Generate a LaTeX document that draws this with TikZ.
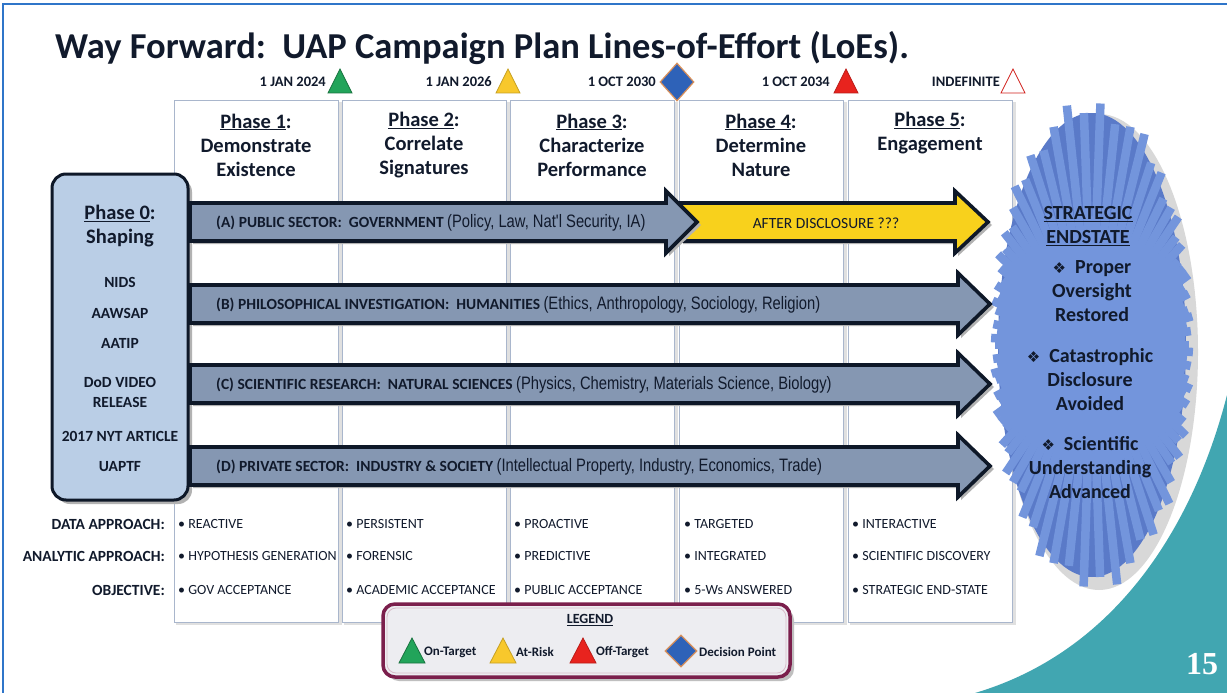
\documentclass[tikz,border=0pt]{standalone}
\usepackage{fontspec}
\setmainfont{Carlito}
\newfontfamily\narrowfont[FakeStretch=0.82]{Liberation Sans}
\newfontfamily\symfont{DejaVu Sans}
\newfontfamily\numfont{Liberation Serif}
\usetikzlibrary{shapes.geometric,calc}
\definecolor{ink}{HTML}{111A2C}
\definecolor{frameblue}{HTML}{2F75C9}
\definecolor{colborder}{HTML}{A9B6CC}
\definecolor{steel}{HTML}{8597B2}
\definecolor{arrowline}{HTML}{0E1828}
\definecolor{gold}{HTML}{F8D11C}
\definecolor{phfill}{HTML}{BACEE6}
\definecolor{tealbg}{HTML}{41A6B1}
\definecolor{burstlight}{HTML}{7395DC}
\definecolor{burstdark}{HTML}{5A7AC8}
\definecolor{maroon}{HTML}{7B1F4C}
\definecolor{legfill}{HTML}{EDEDF1}
\definecolor{tgreen}{HTML}{22A45A}
\definecolor{tyellow}{HTML}{F8C82C}
\definecolor{tred}{HTML}{E8231E}
\definecolor{dblue}{HTML}{2E62B8}
\definecolor{dorange}{HTML}{D9905A}
\tikzset{
  colbox/.style={draw=colborder, line width=1.2pt, fill=white, minimum width=164pt, minimum height=522pt, anchor=north west, inner sep=0pt},
  phasehead/.style={font=\bfseries\fontsize{20.5}{24}\selectfont, text=ink, align=center},
  datelabel/.style={font=\bfseries\fontsize{14.5}{16}\selectfont, text=ink, anchor=east, inner sep=2pt},
  ph0text/.style={font=\bfseries\fontsize{15.5}{17}\selectfont, text=ink},
  arrowbox/.style={draw=arrowline, line width=3.6pt, line join=miter},
  lanetext/.style={anchor=west, text=ink, inner sep=0pt},
  rowlabel/.style={font=\bfseries\fontsize{15.5}{17}\selectfont, text=ink, anchor=east, inner sep=0pt},
  rowitem/.style={font=\fontsize{14}{16}\selectfont, text=ink, anchor=west, inner sep=0pt},
  legtext/.style={font=\bfseries\fontsize{13}{15}\selectfont, text=ink, anchor=west, inner sep=0pt},
  bursttext/.style={font=\bfseries\fontsize{20}{24}\selectfont, text=ink, align=center},
  decision/.style={diamond, fill=dblue, draw=dorange, line width=1.2pt, minimum width=34pt, minimum height=38pt, inner sep=0pt},
}
\newcommand\tri[5]{% x, ybase, half width, height, fill/draw
  \filldraw[#5, line width=0.8pt] (#1-#3,#2) -- (#1+#3,#2) -- (#1,#2-#4) -- cycle;}
\newcommand\lanearrow[5]{% xstart, headstart, tip, ycenter, fill
  \fill[black!30] (#1+3,#4-16) -- (#2+3,#4-16) -- (#2+3,#4-28) -- (#3+4,#4+3) -- (#2+3,#4+34) -- (#2+3,#4+22) -- (#1+3,#4+22) -- cycle;
  \draw[arrowbox, fill=#5] (#1,#4-19) -- (#2,#4-19) -- (#2,#4-31) -- (#3,#4) -- (#2,#4+31) -- (#2,#4+19) -- (#1,#4+19) -- cycle;}
\begin{document}
\begin{tikzpicture}[x=1pt,y=-1pt]
\useasboundingbox (0,0) rectangle (1227,693);
\fill[white] (0,0) rectangle (1227,693);
% teal corner
\fill[tealbg] (1227,395) .. controls (1195,520) and (1120,650) .. (975,693) -- (1227,693) -- cycle;
% frame
\draw[frameblue, line width=2pt] (3,693) -- (3,4) -- (1227,4);
% title
\node[anchor=west, font=\bfseries\fontsize{36.5}{40}\selectfont, text=ink, inner sep=0pt] (title) at (55,48) {Way Forward:\ \ UAP Campaign Plan Lines-of-Effort (LoEs).};
% columns
\foreach \xx/\nm in {174/c1,342/c2,510/c3,679/c4,848/c5}{
  \fill[black!12] (\xx+2,102) rectangle (\xx+168,625);
  \node[colbox] (\nm) at (\xx,100) {};
}
% milestones
\node[datelabel] (d1) at (328,82) {1 JAN 2024};
\tri{340}{93}{12}{24}{fill=tgreen, draw=tgreen!70!black}
\node[datelabel] (d2) at (494,82) {1 JAN 2026};
\tri{508}{93}{12}{24}{fill=tyellow, draw=tyellow!80!black}
\node[datelabel] (d3) at (658,82) {1 OCT 2030};
\node[decision] (dp1) at (677,82) {};
\node[datelabel] (d4) at (832,82) {1 OCT 2034};
\tri{846}{93}{12}{24}{fill=tred, draw=tred!80!black}
\node[datelabel] (d5) at (1002,82) {INDEFINITE};
\tri{1013}{93}{12}{24}{fill=white!90!blue!5, draw=tred!90!black}
% phase headers
\node[phasehead] (h1) at (256,145) {\underline{Phase 1}:\\Demonstrate\\Existence};
\node[phasehead] (h2) at (424,145) {\underline{Phase 2}:\\Correlate\\Signatures};
\node[phasehead] (h3) at (592,145) {\underline{Phase 3}:\\Characterize\\Performance};
\node[phasehead] (h4) at (761,145) {\underline{Phase 4}:\\Determine\\Nature};
\node[phasehead] (h5) at (930,133) {\underline{Phase 5}:\\Engagement};
% starburst
\fill[black!30, opacity=0.5] (1099,352) ellipse [x radius=99, y radius=238];
\fill[burstdark] (1092,345) ellipse [x radius=94, y radius=232];
\foreach \a [count=\i] in {0,4,...,356}{
  \pgfmathsetmacro\rr{235.2/sqrt((2.4*cos(\a))^2+(0.98*sin(\a))^2)}
  \pgfmathsetmacro\jj{0.95+0.08*mod(\i*7,5)/4}
  \draw[burstlight, line width=8.5pt] (1092,345) -- ++({\rr*\jj*cos(\a)},{\rr*\jj*sin(\a)});
}
\fill[burstlight] (1092,345) ellipse [x radius=40, y radius=80];
% phase 0
\fill[black!30, rounded corners=14pt] (56,178) rectangle (192,504);
\filldraw[fill=phfill, draw=arrowline, line width=3pt, rounded corners=14pt] (52,174) rectangle (188,500);
\node[phasehead, font=\bfseries\fontsize{20.5}{24}\selectfont] (p0) at (120,226) {\underline{Phase 0}:\\Shaping};
\node[ph0text] (n1) at (120,282) {NIDS};
\node[ph0text] (n2) at (120,313) {AAWSAP};
\node[ph0text] (n3) at (120,343) {AATIP};
\node[ph0text, align=center, font=\bfseries\fontsize{15.5}{20}\selectfont] (n4) at (120,392) {DoD VIDEO\\RELEASE};
\node[ph0text] (n5) at (120,436) {2017 NYT ARTICLE};
\node[ph0text] (n6) at (120,467) {UAPTF};
% arrows
\lanearrow{680}{955}{988}{222}{gold}
\lanearrow{190}{666}{697}{222}{steel}
\lanearrow{190}{958}{990}{304}{steel}
\lanearrow{190}{958}{990}{384}{steel}
\lanearrow{190}{958}{990}{466}{steel}
\node[lanetext] (la) at (216,223) {\bfseries\fontsize{15.5}{17}\selectfont (A) PUBLIC SECTOR:\ \ GOVERNMENT \narrowfont\mdseries\fontsize{18}{20}\selectfont(Policy, Law, Nat'l Security, IA)};
\node[text=ink, font=\fontsize{15.5}{17}\selectfont] (lad) at (826,223) {AFTER DISCLOSURE ???};
\node[lanetext] (lb) at (216,305) {\bfseries\fontsize{15.5}{17}\selectfont (B) PHILOSOPHICAL INVESTIGATION:\ \ HUMANITIES \narrowfont\mdseries\fontsize{18}{20}\selectfont(Ethics, Anthropology, Sociology, Religion)};
\node[lanetext] (lc) at (216,385) {\bfseries\fontsize{15.5}{17}\selectfont (C) SCIENTIFIC RESEARCH:\ \ NATURAL SCIENCES \narrowfont\mdseries\fontsize{18}{20}\selectfont(Physics, Chemistry, Materials Science, Biology)};
\node[lanetext] (ld) at (216,467) {\bfseries\fontsize{15.5}{17}\selectfont (D) PRIVATE SECTOR:\ \ INDUSTRY \& SOCIETY \narrowfont\mdseries\fontsize{18}{20}\selectfont(Intellectual Property, Industry, Economics, Trade)};
% burst text
\node[bursttext] (b0) at (1088,226) {\underline{STRATEGIC}\\\underline{ENDSTATE}};
\node[bursttext] (b1) at (1092,291) {{\symfont\fontsize{15}{17}\selectfont ❖}\ \ Proper\\Oversight\\Restored};
\node[bursttext] (b2) at (1090,380) {{\symfont\fontsize{15}{17}\selectfont ❖}\ \ Catastrophic\\Disclosure\\Avoided};
\node[bursttext] (b3) at (1090,468) {{\symfont\fontsize{15}{17}\selectfont ❖}\ \ Scientific\\Understanding\\Advanced};
% rows
\node[rowlabel] (r1) at (165,524) {DATA APPROACH:};
\node[rowlabel] (r2) at (165,556) {ANALYTIC APPROACH:};
\node[rowlabel] (r3) at (165,590) {OBJECTIVE:};
\foreach \xx/\ta/\tb/\tc [count=\k] in {178/REACTIVE/HYPOTHESIS GENERATION/GOV ACCEPTANCE,
  346/PERSISTENT/FORENSIC/ACADEMIC ACCEPTANCE,
  514/PROACTIVE/PREDICTIVE/PUBLIC ACCEPTANCE,
  684/TARGETED/INTEGRATED/5-Ws ANSWERED,
  852/INTERACTIVE/SCIENTIFIC DISCOVERY/STRATEGIC END-STATE}{
  \node[rowitem] (ia\k) at (\xx,524) {• \ta};
  \node[rowitem] (ib\k) at (\xx,556) {• \tb};
  \node[rowitem] (ic\k) at (\xx,590) {• \tc};
}
% legend
\fill[black!25, rounded corners=12pt] (387,608) rectangle (794,681);
\filldraw[fill=legfill, draw=maroon, line width=3.5pt, rounded corners=12pt] (383,604) rectangle (790,677);
\draw[white!70!maroon, line width=0.8pt, rounded corners=9pt] (387,608) rectangle (786,673);
\node[font=\bfseries\fontsize{14}{16}\selectfont, text=ink] (lg) at (590,620) {\underline{LEGEND}};
\tri{412}{663}{13}{25}{fill=tgreen, draw=tgreen!70!black}
\node[legtext] (l1) at (424,652) {On-Target};
\tri{503}{663}{13}{25}{fill=tyellow, draw=tyellow!80!black}
\node[legtext] (l2) at (516,652) {At-Risk};
\tri{583}{663}{13}{25}{fill=tred, draw=tred!80!black}
\node[legtext] (l3) at (596,652) {Off-Target};
\node[decision, minimum width=32pt, minimum height=32pt] (dp2) at (681,651) {};
\node[legtext] (l4) at (699,652) {Decision Point};
% page number
\node[font=\numfont\bfseries\fontsize{32}{32}\selectfont, text=white] (pg) at (1202,664) {15};
\end{tikzpicture}
\end{document}
